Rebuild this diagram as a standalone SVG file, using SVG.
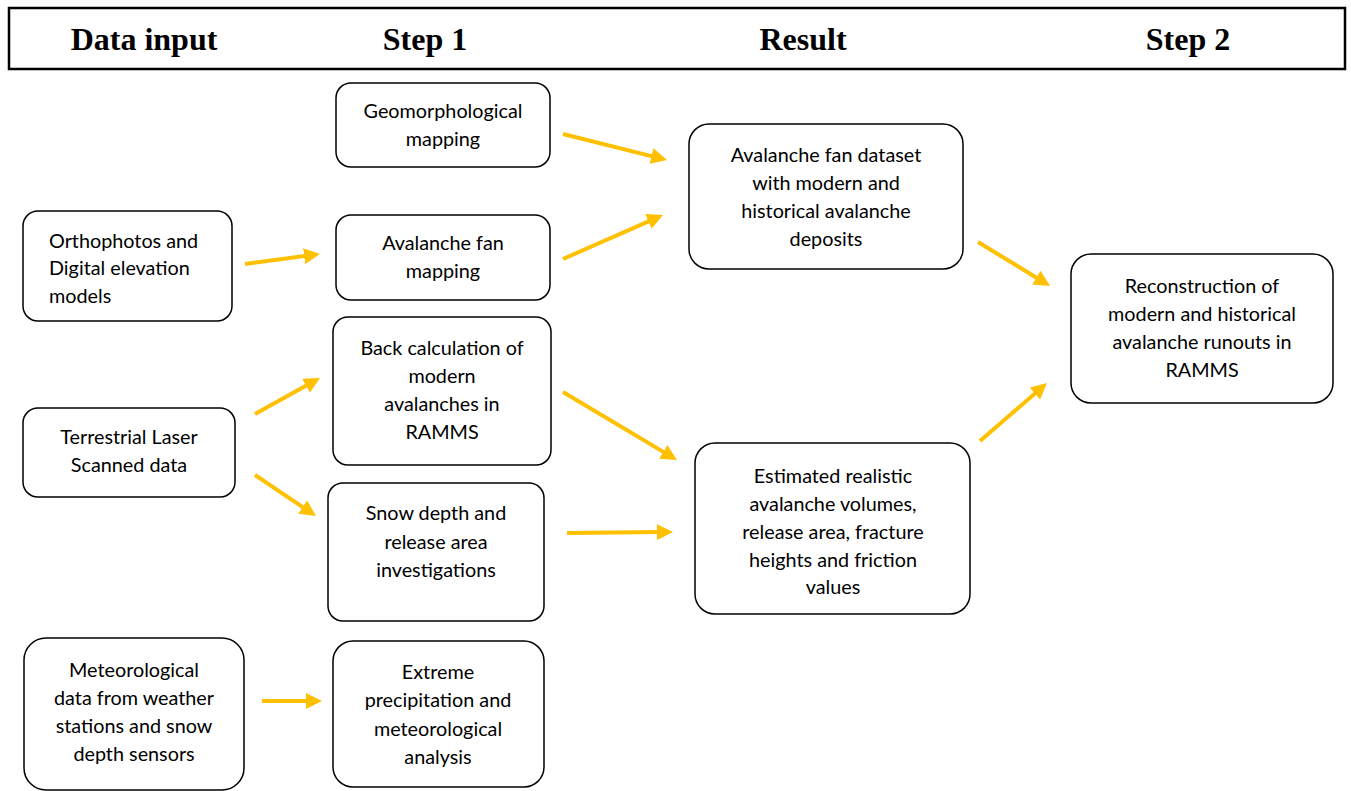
<svg xmlns="http://www.w3.org/2000/svg" width="1351" height="791" viewBox="0 0 1351 791">
<style>
.hdr{font-family:"Liberation Serif","Times New Roman",serif;font-weight:bold;font-size:32px;fill:#000;text-anchor:middle}
.box{fill:#fff;stroke:#000;stroke-width:1.5}
.t{font-family:Lato,"Open Sans",sans-serif;font-size:19.8px;fill:#000;text-anchor:middle}
.tl{font-family:Lato,"Open Sans",sans-serif;font-size:19.8px;fill:#000}
.arr{stroke:#FFC000;stroke-width:4;fill:none;marker-end:url(#ah)}
</style>
<defs>
<marker id="ah" markerUnits="userSpaceOnUse" markerWidth="16" markerHeight="16" refX="4" refY="8" orient="auto">
<path d="M0,0 L16,8 L0,16 z" fill="#FFC000"/>
</marker>
</defs>
<rect width="1351" height="791" fill="#fff"/>
<g id="header">
<rect x="9" y="8" width="1336" height="61" fill="none" stroke="#000" stroke-width="2.5"/>
<text class="hdr" x="144" y="50">Data input</text>
<text class="hdr" x="425" y="50">Step 1</text>
<text class="hdr" x="803" y="50">Result</text>
<text class="hdr" x="1188" y="50">Step 2</text>
</g>
<g id="connectors">
<line class="arr" x1="563" y1="134" x2="655.4" y2="157.1"/>
<line class="arr" x1="563" y1="259" x2="652" y2="219.8"/>
<line class="arr" x1="245" y1="264" x2="308.1" y2="255.6"/>
<line class="arr" x1="255" y1="414" x2="309.5" y2="383.8"/>
<line class="arr" x1="255" y1="475" x2="306" y2="509.3"/>
<line class="arr" x1="563" y1="392" x2="666.7" y2="453.9"/>
<line class="arr" x1="567" y1="533" x2="661" y2="532.1"/>
<line class="arr" x1="262" y1="701" x2="310" y2="701"/>
<line class="arr" x1="978" y1="242" x2="1039.8" y2="279.7"/>
<line class="arr" x1="980" y1="441" x2="1037.9" y2="390.9"/>
</g>
<g id="geomorph">
<rect class="box" x="336" y="83" width="214" height="84" rx="15"/>
<text class="t" x="443" y="118">Geomorphological</text>
<text class="t" x="443" y="146">mapping</text>
</g>
<g id="fanmapping">
<rect class="box" x="336" y="215" width="214" height="85" rx="15"/>
<text class="t" x="443" y="250">Avalanche fan</text>
<text class="t" x="443" y="278">mapping</text>
</g>
<g id="ortho">
<rect class="box" x="23" y="211" width="209" height="110" rx="15"/>
<text class="tl" x="49" y="248">Orthophotos and</text>
<text class="tl" x="49" y="275">Digital elevation</text>
<text class="tl" x="49" y="303">models</text>
</g>
<g id="backcalc">
<rect class="box" x="333" y="317" width="218" height="148" rx="15"/>
<text class="t" x="442" y="355">Back calculation of</text>
<text class="t" x="442" y="383">modern</text>
<text class="t" x="442" y="411">avalanches in</text>
<text class="t" x="442" y="439">RAMMS</text>
</g>
<g id="tls">
<rect class="box" x="23" y="408" width="212" height="89" rx="15"/>
<text class="t" x="129" y="444">Terrestrial Laser</text>
<text class="t" x="129" y="472">Scanned data</text>
</g>
<g id="snowdepth">
<rect class="box" x="328" y="483" width="216" height="138" rx="15"/>
<text class="t" x="436" y="520">Snow depth and</text>
<text class="t" x="436" y="549">release area</text>
<text class="t" x="436" y="577">investigations</text>
</g>
<g id="meteo">
<rect class="box" x="24" y="638" width="220" height="152" rx="22"/>
<text class="t" x="134" y="677">Meteorological</text>
<text class="t" x="134" y="705">data from weather</text>
<text class="t" x="134" y="733">stations and snow</text>
<text class="t" x="134" y="761">depth sensors</text>
</g>
<g id="extreme">
<rect class="box" x="333" y="641" width="211" height="146" rx="20"/>
<text class="t" x="438" y="679">Extreme</text>
<text class="t" x="438" y="707">precipitation and</text>
<text class="t" x="438" y="736">meteorological</text>
<text class="t" x="438" y="764">analysis</text>
</g>
<g id="dataset">
<rect class="box" x="689" y="124" width="274" height="145" rx="20"/>
<text class="t" x="826" y="162">Avalanche fan dataset</text>
<text class="t" x="826" y="190">with modern and</text>
<text class="t" x="826" y="218">historical avalanche</text>
<text class="t" x="826" y="246">deposits</text>
</g>
<g id="estimated">
<rect class="box" x="695" y="443" width="275" height="171" rx="20"/>
<text class="t" x="833" y="483">Estimated realistic</text>
<text class="t" x="833" y="511">avalanche volumes,</text>
<text class="t" x="833" y="539">release area, fracture</text>
<text class="t" x="833" y="567">heights and friction</text>
<text class="t" x="833" y="594">values</text>
</g>
<g id="reconstruction">
<rect class="box" x="1071" y="254" width="262" height="149" rx="20"/>
<text class="t" x="1202" y="293">Reconstruction of</text>
<text class="t" x="1202" y="321">modern and historical</text>
<text class="t" x="1202" y="349">avalanche runouts in</text>
<text class="t" x="1202" y="377">RAMMS</text>
</g>
</svg>
